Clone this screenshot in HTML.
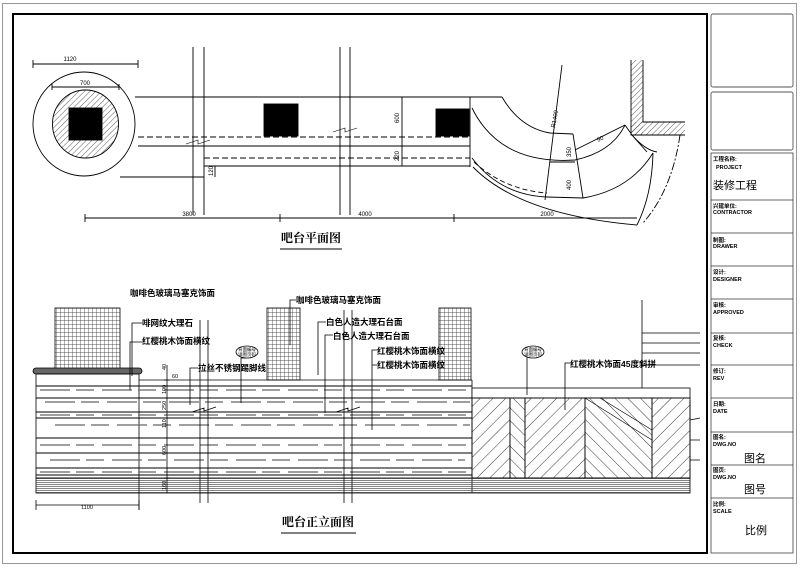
<!DOCTYPE html>
<html><head><meta charset="utf-8"><style>
html,body{margin:0;padding:0;background:#fff}
svg{display:block}
text{font-family:"Liberation Sans","Noto Sans CJK SC",sans-serif;fill:#000}
.cj{font-family:"Liberation Serif","Noto Serif CJK SC",serif}
</style></head><body>
<svg width="800" height="567" viewBox="0 0 800 567" xmlns="http://www.w3.org/2000/svg">
<defs>
<pattern id="h45" width="4" height="4" patternUnits="userSpaceOnUse" patternTransform="rotate(45)"><line x1="0" y1="0" x2="0" y2="4" stroke="#333" stroke-width="0.8"/></pattern>
<pattern id="grid" width="4" height="4" patternUnits="userSpaceOnUse"><path d="M0 0H4M0 0V4" stroke="#222" stroke-width="0.7" fill="none"/></pattern>
<pattern id="hbA" width="9" height="9" patternUnits="userSpaceOnUse" patternTransform="rotate(45)"><line x1="0" y1="0" x2="0" y2="9" stroke="#222" stroke-width="0.9"/></pattern>
<pattern id="hbB" width="9" height="9" patternUnits="userSpaceOnUse" patternTransform="rotate(-45)"><line x1="0" y1="0" x2="0" y2="9" stroke="#222" stroke-width="0.9"/></pattern>
<pattern id="base" width="4" height="2" patternUnits="userSpaceOnUse"><line x1="0" y1="0.5" x2="4" y2="0.5" stroke="#333" stroke-width="0.6"/></pattern>
</defs>
<rect x="2.5" y="3.5" width="794" height="560" fill="none" stroke="#999" stroke-width="1"/>
<rect x="13" y="14" width="694" height="539" fill="none" stroke="#000" stroke-width="2"/>
<g fill="none" stroke="#555" stroke-width="0.9">
<rect x="711" y="14" width="82" height="73" rx="2"/>
<rect x="711" y="92" width="82" height="58" rx="2"/>
<rect x="711" y="153" width="82" height="400"/>
</g>
<g stroke="#333" stroke-width="0.8">
<line x1="711" y1="200" x2="793" y2="200"/><line x1="711" y1="233" x2="793" y2="233"/>
<line x1="711" y1="266" x2="793" y2="266"/><line x1="711" y1="299" x2="793" y2="299"/>
<line x1="711" y1="333" x2="793" y2="333"/><line x1="711" y1="365" x2="793" y2="365"/>
<line x1="711" y1="398" x2="793" y2="398"/><line x1="711" y1="432" x2="793" y2="432"/>
<line x1="711" y1="465" x2="793" y2="465"/><line x1="711" y1="498" x2="793" y2="498"/>
</g>
<g font-size="5.5" class="cj" font-weight="bold">
<text x="713" y="161">工程名称:</text><text x="716" y="169">PROJECT</text>
<text x="713" y="208">兴建单位:</text><text x="713" y="214">CONTRACTOR</text>
<text x="713" y="242">制图:</text><text x="713" y="248">DRAWER</text>
<text x="713" y="274">设计:</text><text x="713" y="281">DESIGNER</text>
<text x="713" y="307">审核:</text><text x="713" y="314">APPROVED</text>
<text x="713" y="340">复核:</text><text x="713" y="347">CHECK</text>
<text x="713" y="373">修订:</text><text x="713" y="380">REV</text>
<text x="713" y="406">日期:</text><text x="713" y="413">DATE</text>
<text x="713" y="439">图名:</text><text x="713" y="446">DWG.NO</text>
<text x="713" y="472">图页:</text><text x="713" y="479">DWG.NO</text>
<text x="713" y="506">比例:</text><text x="713" y="513">SCALE</text>
</g>
<g font-size="11" class="cj">
<text x="713" y="189">装修工程</text>
<text x="744" y="462">图名</text>
<text x="744" y="493">图号</text>
<text x="745" y="534">比例</text>
</g>

<g fill="none" stroke="#000" stroke-width="0.9">
<ellipse cx="84" cy="124" rx="51" ry="52"/>
<ellipse cx="85.5" cy="124" rx="33" ry="34" fill="url(#h45)"/>
<rect x="69" y="108" width="33" height="32" fill="#000"/>
<path d="M33 64H138M33 60V68M138 60V68"/>
<path d="M52 87H119M52 84V90M119 84V90"/>
<line x1="135" y1="97" x2="502" y2="97"/>
<line x1="138" y1="146" x2="470" y2="146"/>
<line x1="204" y1="166" x2="470" y2="166"/>
<line x1="120" y1="177" x2="204" y2="177"/>
<line x1="138" y1="137" x2="470" y2="137" stroke-dasharray="6,3"/>
<line x1="204" y1="158" x2="470" y2="158" stroke-dasharray="6,3"/>
<line x1="193" y1="47" x2="193" y2="215"/><line x1="204" y1="47" x2="204" y2="215"/>
<line x1="340" y1="47" x2="340" y2="215"/><line x1="350" y1="47" x2="350" y2="215"/>
<path d="M186 144L198 140L198 144L210 140M333 132L345 128L345 132L357 128" stroke-width="0.6"/>
<rect x="264" y="104" width="34" height="32" fill="#000"/>
<rect x="436" y="109" width="33" height="27" fill="#000"/>
<line x1="470" y1="97" x2="470" y2="167"/>
<line x1="402" y1="97" x2="402" y2="166"/>
<line x1="215" y1="166" x2="215" y2="177"/>
<path d="M85 218H637M85 214V222M280 214V222M454 214V222"/>
<path d="M502 97Q520 128 550 133L573 134"/>
<path d="M472 108Q500 165 575 160Q612 152 625 125"/>
<path d="M472 158Q500 195 547 197L583 198Q630 190 653 153"/>
<path d="M474 162Q505 190 547 193" stroke-dasharray="5,3"/>
<path d="M473 167Q520 215 637 225"/>
<line x1="562" y1="65" x2="545" y2="200"/>
<line x1="573" y1="134" x2="583" y2="198"/>
<line x1="550" y1="162" x2="575" y2="162"/>
<line x1="575" y1="150" x2="625" y2="125"/>
<path d="M625 125L632 135L647 152"/>
<path d="M653 153Q652 195 637 225"/>
<path d="M680 135Q672 190 643 223" stroke-dasharray="8,2,2,2"/>
<path d="M632 135Q645 150 657 152" />
<rect x="631" y="60" width="12" height="75" fill="url(#h45)" stroke="none"/>
<rect x="631" y="122" width="54" height="13" fill="url(#h45)" stroke="none"/>
<path d="M643 60V122H685M631 60V135H685"/>
</g>
<g font-size="6">
<text x="70" y="61" text-anchor="middle">1120</text>
<text x="85" y="85" text-anchor="middle">700</text>
<text x="189" y="216" text-anchor="middle">3800</text>
<text x="365" y="216" text-anchor="middle">4000</text>
<text x="547" y="216" text-anchor="middle">2000</text>
<text transform="translate(399,123) rotate(-90)">600</text>
<text transform="translate(399,161) rotate(-90)">220</text>
<text transform="translate(213,176) rotate(-90)">120</text>
<text transform="translate(555,128) rotate(-80)">R1400</text>
<text transform="translate(571,157) rotate(-90)">350</text>
<text transform="translate(571,190) rotate(-90)">400</text>
<text transform="translate(598,142) rotate(-25)">90</text>
</g>
<text x="281" y="242" font-size="12" class="cj" font-weight="bold">吧台平面图</text>
<line x1="280" y1="249" x2="342" y2="249" stroke="#000" stroke-width="1"/>

<g stroke="#000" stroke-width="0.8" fill="none">
<rect x="55" y="308" width="65" height="62" fill="url(#grid)"/>
<rect x="267" y="308" width="33" height="72" fill="url(#grid)"/>
<rect x="439" y="308" width="32" height="72" fill="url(#grid)"/>
<rect x="33" y="368" width="109" height="6" rx="3" fill="#666"/>
<rect x="36" y="374" width="103" height="104"/>
<line x1="139" y1="380" x2="472" y2="380"/>
<line x1="472" y1="380" x2="472" y2="493"/>
<rect x="36" y="478" width="654" height="15" fill="url(#base)"/>
<g stroke-width="1">
<path d="M36 386H472M36 398H472M36 412H472M36 418H472M36 438H472M36 453H472M36 468H472M36 475H472"/>
</g>
<g stroke="#666" stroke-width="1.3" stroke-dasharray="30,6,18,8">
<path d="M40 390H470M45 402H470M40 415H470M55 425H470M40 445H470M50 460H465M40 472H470"/>
</g>
<rect x="472" y="388" width="218" height="10" fill="#fff"/>
<rect x="472" y="398" width="38" height="80" fill="url(#hbA)"/>
<rect x="510" y="398" width="15" height="80" fill="url(#hbB)"/>
<rect x="525" y="398" width="60" height="80" fill="url(#hbA)"/>
<rect x="585" y="398" width="67" height="80" fill="url(#hbB)"/>
<rect x="652" y="398" width="38" height="80" fill="url(#hbA)"/>
<path d="M585 398L652 440M600 398L652 430" stroke-width="0.6"/>
<path d="M642 300V388M642 333H700M642 343H700M642 353H700M642 365H700"/>
<path d="M690 400V478M690 420L700 418M690 440H700M690 460H700"/>
<path d="M36 505H139M36 500V510M139 500V510"/>
<line x1="139" y1="478" x2="139" y2="510"/>
<line x1="200" y1="320" x2="200" y2="503"/><line x1="208" y1="320" x2="208" y2="503"/>
<line x1="344" y1="310" x2="344" y2="503"/><line x1="352" y1="310" x2="352" y2="503"/>
<path d="M192 412L204 408L204 411L216 407M336 412L348 408L348 411L360 407"/>
<line x1="167" y1="365" x2="167" y2="493"/>
<path d="M164 380H170M164 398H170M164 412H170M164 418H170M164 478H170"/>
<path d="M142 323H132V376M142 342H130V390M198 368H190V405M296 300H290V345M326 322H318V375M333 335H325V413M377 350H372V393M377 365H372V430M570 363H565V410M247 358H241V403M533 352H527V395"/>
<ellipse cx="247" cy="352" rx="11" ry="6" fill="#fff"/>
<ellipse cx="533" cy="352" rx="11" ry="6" fill="#fff"/>
</g>
<g font-size="8.5" class="cj" font-weight="bold">
<text x="130" y="296">咖啡色玻璃马塞克饰面</text>
<text x="142" y="326">啡网纹大理石</text>
<text x="142" y="344">红樱桃木饰面横纹</text>
<text x="198" y="371">拉丝不锈钢踢脚线</text>
<text x="296" y="303">咖啡色玻璃马塞克饰面</text>
<text x="326" y="325">白色人造大理石台面</text>
<text x="333" y="339">白色人造大理石台面</text>
<text x="377" y="354">红樱桃木饰面横纹</text>
<text x="377" y="368">红樱桃木饰面横纹</text>
<text x="570" y="367">红樱桃木饰面45度斜拼</text>
</g>
<g font-size="4.5" class="cj">
<text x="247" y="351" text-anchor="middle">背面编号</text><text x="247" y="356" text-anchor="middle">详图页码</text>
<text x="533" y="351" text-anchor="middle">背面编号</text><text x="533" y="356" text-anchor="middle">详图页码</text>
</g>
<g font-size="5.5">
<text transform="translate(166,370) rotate(-90)">40</text>
<text x="172" y="378">60</text>
<text transform="translate(166,394) rotate(-90)">100</text>
<text transform="translate(166,410) rotate(-90)">250</text>
<text transform="translate(166,428) rotate(-90)">110</text>
<text transform="translate(166,455) rotate(-90)">600</text>
<text transform="translate(166,490) rotate(-90)">160</text>
<text x="87" y="509" text-anchor="middle">1100</text>
</g>
<text x="282" y="526" font-size="12" class="cj" font-weight="bold">吧台正立面图</text>
<line x1="281" y1="533" x2="356" y2="533" stroke="#000" stroke-width="1"/>
</svg>
</body></html>
